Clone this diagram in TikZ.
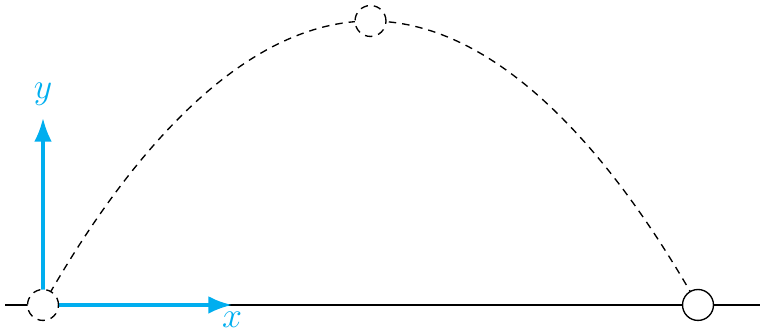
\documentclass[tikz,border=0pt]{standalone}
\usetikzlibrary{arrows.meta, positioning}
\definecolor{axiscyan}{HTML}{00AEEF}

\begin{document}
\begin{tikzpicture}[
    >=Latex,
    line width=0.45pt,
    ball/.style={
        draw=black, fill=white, circle, inner sep=0pt,
        minimum size=0.364cm, line width=0.45pt,
    },
    axis/.style={->, line width=1.1pt, color=axiscyan},
    axislabel/.style={text=axiscyan, font=\large, inner sep=1pt},
    trajectory/.style={dashed, dash pattern=on 2.5pt off 2pt},
]
\useasboundingbox (-0.506,-0.318) rectangle (8.447,3.588);

% Key points of the throw
\coordinate (launch) at (0,0);
\coordinate (apex) at (3.853,3.341);
\coordinate (landing) at (7.706,0);
\coordinate (groundL) at (-0.447,0);
\coordinate (groundR) at (8.44,0);
\coordinate (xtip) at (2.224,0);
\coordinate (ytip) at (0,2.2);

% Ground
\draw (groundL) -- (groundR);

% Path of the ball
\draw[trajectory] (launch) parabola bend (apex) (landing);

% Axes
\draw[axis] (launch) -- (xtip);
\draw[axis] (launch) -- (ytip);
\node[axislabel, below=0.04cm of xtip] (xlabel) {$x$};
\node[axislabel, above=0.1cm of ytip] (ylabel) {$y$};

% Ball positions
\node[ball, trajectory] (startball) at (launch) {};
\node[ball, trajectory] (topball) at (apex) {};
\node[ball] (endball) at (landing) {};

\end{tikzpicture}
\end{document}
